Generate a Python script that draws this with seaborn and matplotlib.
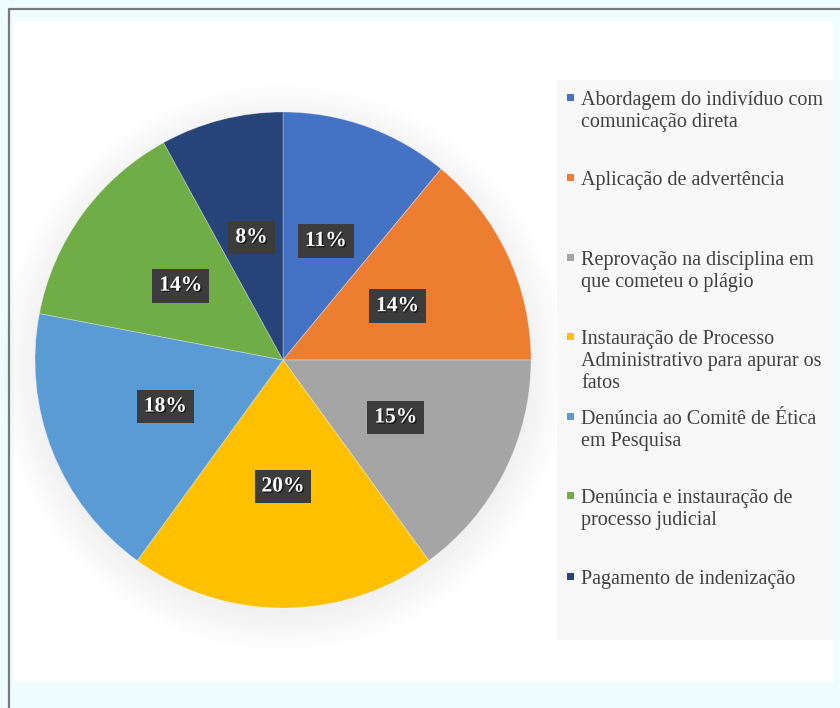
import matplotlib
matplotlib.use("Agg")
import matplotlib.pyplot as plt
import matplotlib.patheffects as pe
from matplotlib.patches import Rectangle, Circle
from matplotlib.lines import Line2D
import seaborn as sns

categories = [
    "Abordagem do indivíduo com\ncomunicação direta",
    "Aplicação de advertência",
    "Reprovação na disciplina em\nque cometeu o plágio",
    "Instauração de Processo\nAdministrativo para apurar os\nfatos",
    "Denúncia ao Comitê de Ética\nem Pesquisa",
    "Denúncia e instauração de\nprocesso judicial",
    "Pagamento de indenização",
]
values = [11, 14, 15, 20, 18, 14, 8]
colors_hex = ["#4472C4", "#ED7D31", "#A5A5A5", "#FFC000", "#5B9BD5", "#70AD47", "#264478"]

sns.set_theme(style="white")
plt.rcParams["font.family"] = ["Liberation Serif", "DejaVu Serif"]
palette = sns.color_palette(colors_hex)

W, H = 840, 708
fig = plt.figure(figsize=(W / 100, H / 100), dpi=100, facecolor="#F0FDFE")

def fx(px):
    return px / W

def fy(py):
    return 1 - py / H

# white chart area and frame
fig.patches.append(Rectangle((fx(14), fy(682)), fx(833) - fx(14), fy(21) - fy(682),
                             transform=fig.transFigure, facecolor="white", edgecolor="none", zorder=-2))
fig.lines.append(Line2D([fx(9), fx(9), fx(840)], [fy(708), fy(8.5), fy(8.5)],
                        transform=fig.transFigure, color="#7A7A7A", linewidth=1.6, zorder=1))

# legend background
fig.patches.append(Rectangle((fx(557), fy(640)), fx(833) - fx(557), fy(80) - fy(640),
                             transform=fig.transFigure, facecolor="#F8F8F8", edgecolor="none", zorder=3))

# pie axes
cx, cy, r = 283, 360, 248
ax = fig.add_axes([fx(cx - r), fy(cy + r), fx(2 * r), fy(cy - r) - fy(cy + r)])
ax.set_zorder(2)
ax.axis("off")
ax.patch.set_alpha(0)

# soft shadow around the pie
for i in range(14):
    ax.add_patch(Circle((0, -0.03), 1 + 0.011 * i, facecolor="black", edgecolor="none",
                        alpha=0.005, zorder=0, clip_on=False))

wedges, texts, autotexts = ax.pie(
    values, colors=palette, startangle=90, counterclock=False, radius=1,
    autopct=lambda p: f"{p:.0f}%", pctdistance=0.51,
    wedgeprops=dict(linewidth=0.6, edgecolor=(1, 1, 1, 0.35)),
    textprops=dict(color="white", fontsize=15.5, fontweight="bold"),
)
ax.set_xlim(-1, 1)
ax.set_ylim(-1, 1)
ax.set_aspect("equal")
for t in autotexts:
    t.set_bbox(dict(boxstyle="square,pad=0.32", facecolor="#3C3C3C", edgecolor="none"))
    t.set_path_effects([pe.withSimplePatchShadow(offset=(1, -1), shadow_rgbFace="black", alpha=0.6)])
    t.set_zorder(5)

# legend (items spaced evenly, swatch at first line like the original)
first_line_y = [98, 178, 258, 337, 417, 496, 577]
for lab, col, yy in zip(categories, palette, first_line_y):
    fig.patches.append(Rectangle((fx(567), fy(yy + 3)), fx(7), fy(yy - 4) - fy(yy + 3),
                                 transform=fig.transFigure, facecolor=col, edgecolor="none", zorder=4))
    fig.text(fx(581), fy(yy - 7), lab, ha="left", va="top", fontsize=14.5,
             color="#404040", linespacing=1.2, zorder=5)

fig.savefig("out.png", dpi=100, facecolor=fig.get_facecolor())
